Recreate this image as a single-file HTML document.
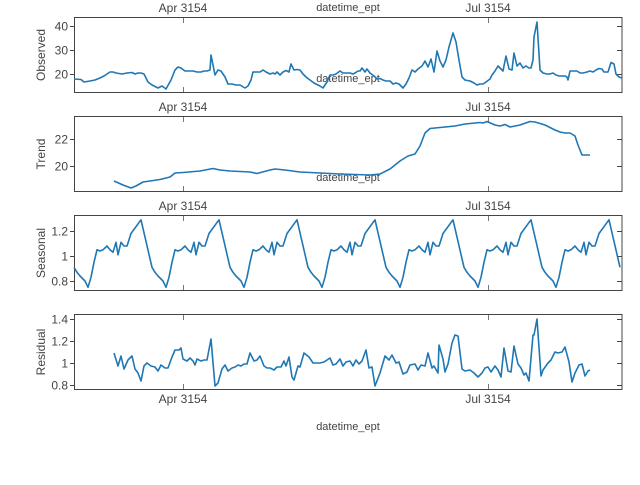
<!DOCTYPE html><html><head><style>body{margin:0;background:#fff}svg{font-family:"Liberation Sans",sans-serif}</style></head><body>
<svg id="s" width="640" height="480" xmlns="http://www.w3.org/2000/svg">
<g fill="none" stroke="#444" stroke-width="1">
<rect x="74.5" y="17.5" width="547.5" height="75"/>
<rect x="74.5" y="116.5" width="547.5" height="75"/>
<rect x="74.5" y="215.5" width="547.5" height="75"/>
<rect x="74.5" y="314.5" width="547.5" height="75"/>
</g>
<g stroke="#444" stroke-width="1">
<path d="M70 26.5h4M70 50.5h4M70 74.5h4M617 26.5h5M617 50.5h5M617 74.5h5"/>
<path d="M70 139.5h4M70 166.5h4M617 139.5h5M617 166.5h5"/>
<path d="M70 231.5h4M70 256.5h4M70 281.5h4M617 231.5h5M617 256.5h5M617 281.5h5"/>
<path d="M70 319.5h4M70 341.5h4M70 363.5h4M70 385.5h4M617 319.5h5M617 341.5h5M617 363.5h5M617 385.5h5"/>
</g>
<g stroke="#777" stroke-width="1">
<path d="M183.5 18v5M183.5 87v5M488.5 18v5M488.5 87v5M183.5 117v5M183.5 186v5M488.5 117v5M488.5 186v5M183.5 216v5M183.5 285v5M488.5 216v5M488.5 285v5M183.5 315v5M183.5 384v5M488.5 315v5M488.5 384v5"/>
</g>
<g fill="#444" font-size="12" text-anchor="end">
<text x="68" y="30.5">40</text><text x="68" y="54.5">30</text><text x="68" y="78.5">20</text>
<text x="68" y="143.5">22</text><text x="68" y="170.5">20</text>
<text x="68" y="235.5">1.2</text><text x="68" y="260.5">1</text><text x="68" y="285.5">0.8</text>
<text x="68" y="323.5">1.4</text><text x="68" y="345.5">1.2</text><text x="68" y="367.5">1</text><text x="68" y="389.5">0.8</text>
</g>
<g fill="#444" font-size="12" text-anchor="middle">
<text x="183" y="12">Apr 3154</text><text x="488" y="12">Jul 3154</text>
<text x="183" y="111">Apr 3154</text><text x="488" y="111">Jul 3154</text>
<text x="183" y="210">Apr 3154</text><text x="488" y="210">Jul 3154</text>
<text x="183" y="403">Apr 3154</text><text x="488" y="403">Jul 3154</text>
<text x="348" y="11" font-size="11">datetime_ept</text>
<text x="348" y="82" font-size="11">datetime_ept</text>
<text x="348" y="181" font-size="11">datetime_ept</text>
<text x="348" y="430" font-size="11">datetime_ept</text>
<text transform="translate(45,55) rotate(-90)">Observed</text>
<text transform="translate(45,154) rotate(-90)">Trend</text>
<text transform="translate(45,253) rotate(-90)">Seasonal</text>
<text transform="translate(45,352) rotate(-90)">Residual</text>
</g>
<g fill="none" stroke="#1f77b4" stroke-width="1.6" stroke-linejoin="round">
<polyline points="74,79 81,79.5 84,82 90,81 95,80 100,78 104,76 110,72 113,72 116,73 122,74 127,73 132,72.5 135,74 138,73 141,73 144,74 148,82 152,85 158,88 162,86 166,89 171,80 175,70 178,67 181,68 185,71 189,71 193,71 197,72 201,72 204,71 207,71 210,70 211,55 215,75 218,70 221,71 225,77 228,84 232,84 236,85 240,85 245,88 248,86 251,80 253,72 256,72 260,72 263,70 266,72 270,74 273,73 275,74 277,72 280,75 283,72 286,70.5 289,72 291,64 294,70 297,69.5 300,70 303,74 306,77 310,80 314,83 320,86 323,88 327,82 330,75 333,75 336,74 340,71 343,73 346,73 350,73 353,74 355,73 358,71 360,71 362,68 365,72 367,69 370,73 374,76 377,79 380,78.5 383,80 386,81 390,81 393,84 396,83 399,84 403,88 406,84 409,78 412,70 415,72 418,69 422,66 425,61 428,67 431,59 434,72 437,51 440,61 443,67 446,60 449,47 453,33 456,42 459,60 462,77 465,80 470,81 474,83 477,85 480,84 483,84 486,82 490,79 492,75 495,71 498,66 501,69 503,71 506,56 509,69 512,70 514,53 517,66 520,63 523,68 526,66 529,68 531,68 533,60 534,37 537,22 540,70 543,73 547,74 550,74 553,73 556,75 559,76 562,76 565,76 567,77 568,80 570,71 575,71 577,71 580,73 583,73 587,72 590,71 593,72 596,70 599,68.5 602,69 604,72 608,72 611,62.5 614,64 616,74 619,77 622,78"/>
<polyline points="114,181 123,185 131,188 136,186 143,182 150,181 160,179.5 170,177 175,173 183,172.5 200,171 213,168.5 220,170 230,171 240,171.5 250,172 257,173.5 270,170 275,169 285,170 300,172 320,173 340,174 370,175 380,174 390,169 400,161 408,156 415,154 420,146 425,133 430,128.5 440,127.5 455,126 465,124 475,123 480,122.5 483,123 487,121.5 495,125 500,126 505,124.5 510,127 520,125 530,121.5 535,122 545,125 555,130 560,132 565,133 570,133 575,136 578,145 582,155 586,155 590,155"/>
<polyline id="seas" points=""/>
<polyline points="114,353 118,366 121,356 124,369 128,360 132,356 135,369 138,373 141,381 144,366 147,363 151,366 155,367 158,371 161,365 165,368 168,368 172,357 175,350 179,350 181,348 183,359 187,361 190,358 193,361 195,365 197,359 201,361 204,360 207,360 211,339 215,386 218,383 222,369 225,365 228,371 232,368 235,367 238,365 241,366 244,364 247,364 250,353 254,361 257,360 260,356 264,366 267,368 270,368 274,370 277,367 281,367 284,361 286,366 289,357 292,377 294,380 298,366 300,367 304,353 309,357 313,363 316,363 320,363 324,362 330,358 333,365 336,364 340,359 343,366 346,362 350,361 353,366 356,360 359,364 362,361 366,350 369,368 372,367 375,386 380,373 385,356 389,360 392,355 396,363 399,362 403,374 407,372 410,365 415,364 418,370 421,365 425,366 428,353 432,368 434,366 438,373 439,345 443,359 445,372 448,364 452,343 455,335 458,336 462,369 465,371 470,370 474,373 478,377 482,373 485,368 488,367 491,372 495,366 498,370 501,377 504,348 508,371 511,372 514,346 518,364 521,368 524,375 526,373 529,381 533,335 534,335 537,319 541,376 543,370 548,363 551,360 555,352 558,353 562,352 565,347 569,362 572,382 575,373 579,365 582,364 585,376 588,371 590,370"/>
</g>
</svg>
<script>
var pat=[[0,0.75],[3,0.83],[6,0.95],[9,1.05],[12,1.04],[15,1.05],[19,1.08],[22,1.05],[25,1.03],[28,1.11],[30,1.01],[33,1.11],[36,1.08],[39,1.08],[43,1.18],[53,1.29],[64,0.91],[67,0.87],[70,0.84],[75,0.80]];
var P=78,pts=[],x0=88;
for(var k=-1;k<8;k++){for(var i=0;i<pat.length;i++){var x=x0+k*P+pat[i][0];if(x>=74&&x<=622)pts.push(x.toFixed(1)+","+(256-(pat[i][1]-1)*125).toFixed(1));}}
document.getElementById("seas").setAttribute("points",pts.join(" "));
</script>
</body></html>
